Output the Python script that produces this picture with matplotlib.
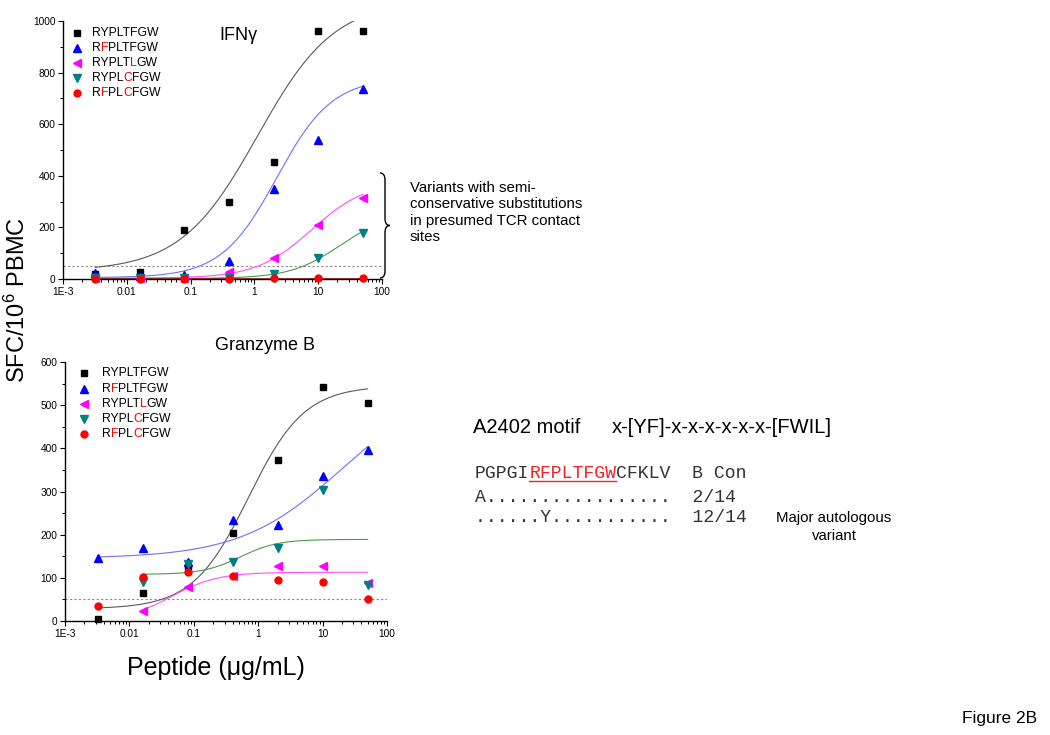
import numpy as np
import matplotlib
matplotlib.use("Agg")
import matplotlib.pyplot as plt
from matplotlib.path import Path
from matplotlib.patches import PathPatch
from matplotlib.text import Annotation
from matplotlib.ticker import LogLocator, MultipleLocator, FixedLocator, FixedFormatter, NullFormatter

plt.rcParams["font.family"] = ["Liberation Sans", "DejaVu Sans"]
plt.rcParams["mathtext.fontset"] = "custom"
plt.rcParams["mathtext.rm"] = "Liberation Sans"
plt.rcParams["mathtext.it"] = "Liberation Sans:italic"

W, H = 1050, 735

# peptide concentrations (ug/mL)
doses = [0.0032, 0.016, 0.08, 0.4, 2, 10, 50]

# legend labels, mutated residues in red
peptide_parts = [
    [("RYPLTFGW", "k")],
    [("R", "k"), ("F", "r"), ("PLTFGW", "k")],
    [("RYPLT", "k"), ("L", "r"), ("GW", "k")],
    [("RYPL", "k"), ("C", "r"), ("FGW", "k")],
    [("R", "k"), ("F", "r"), ("PL", "k"), ("C", "r"), ("FGW", "k")],
]
markers = ["s", "^", "<", "v", "o"]
marker_colors = ["#000000", "#0000ff", "#ff00ff", "#008080", "#ff0000"]
marker_sizes = [4.5, 5.5, 5.5, 5.5, 5]
fit_colors = ["#5a5a5a", "#6f6fff", "#ff50ff", "#4a9a4a", "#a02828"]

# IFN-gamma ELISpot, SFC/10^6 PBMC
ifng_ryp = [20, 28, 188, 300, 455, 960, 960]
ifng_rfp = [22, 10, 15, 68, 348, 540, 735]
ifng_ltl = [5, 5, 3, 28, 80, 208, 315]
ifng_lcf = [2, 3, 2, 2, 18, 80, 180]
ifng_rfc = [0, 0, 0, 0, 2, 2, 3]

# Granzyme B ELISpot
gzb_ryp = [4, 64, 126, 204, 374, 541, 504]
gzb_rfp = [145, 169, 136, 235, 222, 335, 396]
gzb_ltl = [np.nan, 24, 79, 104, 128, 128, 89]
gzb_lcf = [np.nan, 90, 133, 137, 170, 303, 83]
gzb_rfc = [35, 101, 114, 105, 94, 91, 51]

# sigmoid fits: (bottom, top, log10 EC50, hill)
ifng_fits = [(30, 1080, 0.05, 0.72), (5, 780, 0.35, 1.0), (3, 380, 0.9, 1.0),
             (2, 260, 1.35, 1.1), (1, 1.5, 1.0, 1.0)]
gzb_fits = [(28, 545, -0.15, 1.0), (145, 560, 1.3, 0.55), (0, 113, -1.35, 1.2),
            (108, 189, -0.28, 1.5), None]

x_ticks = [1e-3, 1e-2, 1e-1, 1, 10, 100]
x_tick_labels = ["1E-3", "0.01", "0.1", "1", "10", "100"]
cutoff = 50


def logistic(x, b, t, logec, h):
    return b + (t - b) / (1 + 10 ** ((logec - np.log10(x)) * h))


def fx(px):
    return px / W


def fy(py):
    return 1 - py / H


fig = plt.figure(figsize=(W / 100, H / 100), dpi=100)


def color_text(x, y, parts, size, family=None):
    kw = {"fontsize": size}
    if family:
        kw["family"] = family
    t = fig.text(x, y, parts[0][0], color=parts[0][1], va="center", ha="left", **kw)
    pieces = [t]
    for s, c in parts[1:]:
        t = Annotation(s, xy=(1, 0), xycoords=t, va="bottom", ha="left",
                       color=c, annotation_clip=False, **kw)
        fig.add_artist(t)
        pieces.append(t)
    return pieces


def draw_panel(ax, series, fits, ymax, ymajor, yminor):
    ax.set_xscale("log")
    ax.patch.set_alpha(0)
    for vals, fit, fc in zip(series, fits, fit_colors):
        vals = np.array(vals, dtype=float)
        x = np.array(doses)
        ok = ~np.isnan(vals)
        if fit is not None:
            xs = np.logspace(np.log10(x[ok][0]), np.log10(x[ok][-1]), 300)
            ax.plot(xs, logistic(xs, *fit), color=fc, lw=0.8, zorder=2)
    for vals, m, c, ms in zip(series, markers, marker_colors, marker_sizes):
        ax.plot(doses, vals, linestyle="none", marker=m, color=c, ms=ms,
                mec=c, zorder=3, clip_on=False)
    ax.axhline(cutoff, color="#8a8a8a", lw=0.8, ls=(0, (2, 2)), zorder=1)
    ax.set_xlim(1e-3, 100)
    ax.set_ylim(0, ymax)
    ax.xaxis.set_major_locator(FixedLocator(x_ticks))
    ax.xaxis.set_major_formatter(FixedFormatter(x_tick_labels))
    ax.xaxis.set_minor_locator(LogLocator(base=10, subs=np.arange(2, 10), numticks=20))
    ax.xaxis.set_minor_formatter(NullFormatter())
    ax.yaxis.set_major_locator(MultipleLocator(ymajor))
    ax.yaxis.set_minor_locator(MultipleLocator(yminor))
    for s in ["top", "right"]:
        ax.spines[s].set_visible(False)
    for s in ["left", "bottom"]:
        ax.spines[s].set_linewidth(1.0)
    ax.tick_params(which="major", direction="out", length=3.5, width=0.8,
                   labelsize=7.3, pad=2)
    ax.tick_params(which="minor", direction="out", length=2, width=0.7)


def draw_legend(mx, tx, rows_y):
    for parts, m, c, ms, y in zip(peptide_parts, markers, marker_colors,
                                  marker_sizes, rows_y):
        fig.lines.append(plt.Line2D([fx(mx)], [fy(y)], marker=m, color=c, mec=c,
                                    ms=ms, linestyle="none",
                                    transform=fig.transFigure))
        color_text(fx(tx), fy(y), parts, 8.8)


ax_top = fig.add_axes([fx(63), fy(279), fx(382) - fx(63), fy(21) - fy(279)])
ax_bot = fig.add_axes([fx(65), fy(621), fx(387) - fx(65), fy(362) - fy(621)])

draw_panel(ax_top, [ifng_ryp, ifng_rfp, ifng_ltl, ifng_lcf, ifng_rfc],
           ifng_fits, 1000, 200, 100)
draw_panel(ax_bot, [gzb_ryp, gzb_rfp, gzb_ltl, gzb_lcf, gzb_rfc],
           gzb_fits, 600, 100, 50)

draw_legend(77, 92, [33, 48, 63, 78, 93])
draw_legend(84, 102, [373, 389, 404, 419, 434])

fig.text(fx(238), fy(35), "IFN\u03b3", fontsize=13, ha="center", va="center")
fig.text(fx(265), fy(346), "Granzyme B", fontsize=13, ha="center", va="center")
fig.text(fx(17), fy(300), "SFC/10$^6$ PBMC", fontsize=17, rotation=90,
         ha="center", va="center")
fig.text(fx(216), fy(668), "Peptide (\u03bcg/mL)", fontsize=18,
         ha="center", va="center")

# brace next to the weak variants
bx, bt, bb, bw, r = 380, 173, 278, 10, 7
bm = (bt + bb) / 2
pts = [(bx, bt), (bx + bw / 2, bt), (bx + bw / 2, bt + r), (bx + bw / 2, bm - r),
       (bx + bw / 2, bm), (bx + bw, bm), (bx + bw / 2, bm), (bx + bw / 2, bm + r),
       (bx + bw / 2, bb - r), (bx + bw / 2, bb), (bx, bb)]
codes = [Path.MOVETO, Path.CURVE3, Path.CURVE3, Path.LINETO, Path.CURVE3, Path.CURVE3,
         Path.CURVE3, Path.CURVE3, Path.LINETO, Path.CURVE3, Path.CURVE3]
brace = Path([(fx(px), fy(py)) for px, py in pts], codes)
fig.patches.append(PathPatch(brace, fill=False, lw=1.0, color="k",
                             transform=fig.transFigure))

fig.text(fx(410), fy(181),
         "Variants with semi-\nconservative substitutions\nin presumed TCR contact\nsites",
         fontsize=10.8, ha="left", va="top", linespacing=1.22)

fig.text(fx(473), fy(427), "A2402 motif", fontsize=14.5, ha="left", va="center")
fig.text(fx(612), fy(427), "x-[YF]-x-x-x-x-x-x-[FWIL]", fontsize=14.5,
         ha="left", va="center")

mono = "Liberation Mono"
seq = color_text(fx(475), fy(474),
                 [("PGPGI", "#333333"), ("RFPLTFGW", "#ee2222"), ("CFKLV  B Con", "#333333")],
                 13.1, family=mono)
fig.text(fx(475), fy(497), "A.................  2/14", fontsize=13.1,
         family=mono, color="#333333", ha="left", va="center")
fig.text(fx(475), fy(518), "......Y...........  12/14", fontsize=13.1,
         family=mono, color="#333333", ha="left", va="center")
fig.text(fx(834), fy(527), "Major autologous\nvariant", fontsize=10.8,
         ha="center", va="center", linespacing=1.3)

fig.text(fx(1000), fy(718), "Figure 2B", fontsize=12.5, ha="center", va="center")

fig.canvas.draw()
bb_red = seq[1].get_window_extent().transformed(fig.transFigure.inverted())
fig.lines.append(plt.Line2D([bb_red.x0, bb_red.x1], [bb_red.y0 + 0.002] * 2,
                            color="#ee2222", lw=1.0, transform=fig.transFigure))

fig.savefig("out.png", dpi=100)
